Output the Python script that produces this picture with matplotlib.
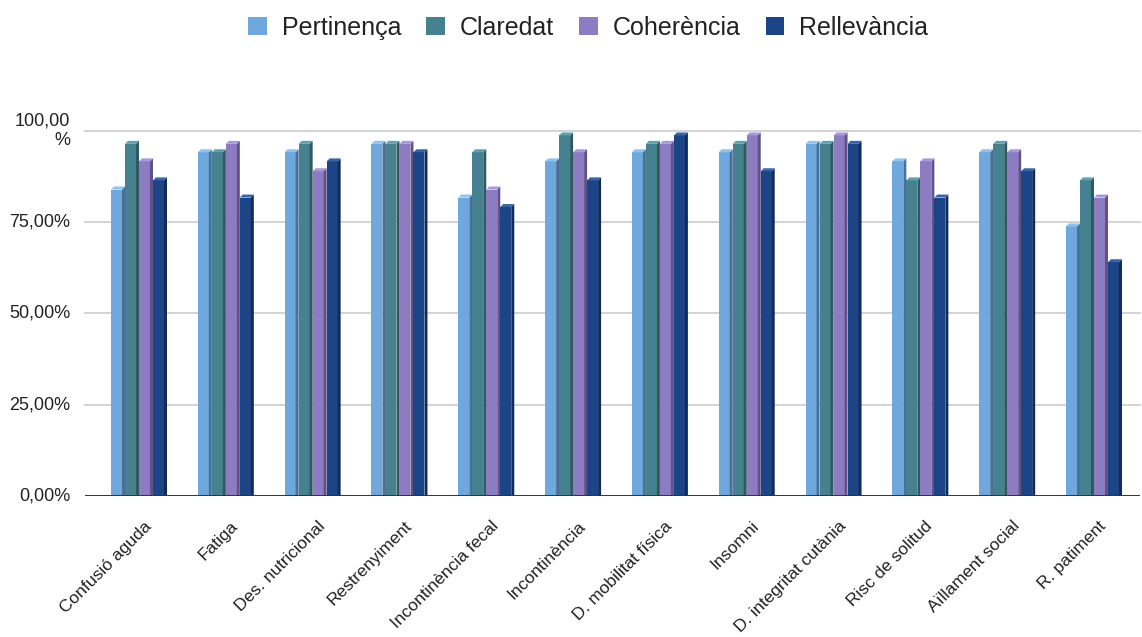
import matplotlib.pyplot as plt
from matplotlib.patches import Patch, Polygon
from matplotlib.ticker import FixedLocator
from matplotlib.transforms import ScaledTranslation
import numpy as np

plt.rcParams['font.family'] = ['Liberation Sans', 'DejaVu Sans']

categories = ['Confusió aguda', 'Fatiga', 'Des. nutricional', 'Restrenyiment',
              'Incontinència fecal', 'Incontinència', 'D. mobilitat física',
              'Insomni', 'D. integritat cutània', 'Risc de solitud',
              'Aïllament social', 'R. patiment']
series = ['Pertinença', 'Claredat', 'Coherència', 'Rellevància']

pertinenca = [83.9, 94.1, 94.1, 96.4, 81.7, 91.6, 94.1, 94.1, 96.4, 91.6, 94.1, 73.8]
claredat = [96.4, 94.1, 96.4, 96.4, 94.1, 98.7, 96.4, 96.4, 96.4, 86.4, 96.4, 86.4]
coherencia = [91.6, 96.4, 88.9, 96.4, 83.9, 94.1, 96.4, 98.7, 98.7, 91.6, 94.1, 81.7]
rellevancia = [86.4, 81.7, 91.6, 94.1, 79.1, 86.4, 98.7, 88.9, 96.4, 81.7, 88.9, 64.0]

yticks = [0, 25, 50, 75, 100]
ytick_labels = ['0,00%', '25,00%', '50,00%', '75,00%', '100,00\n%']

# front, side, top colours of each series
colors = [('#6fa8dc', '#4a6f99', '#92c1ea'),
          ('#45818e', '#2d5960', '#64a0ab'),
          ('#8e7cc3', '#5e5288', '#a998d8'),
          ('#1c4587', '#112c58', '#3b62a3')]

W, H = 1142, 637
fig = plt.figure(figsize=(W / 100, H / 100), dpi=100)
ax = fig.add_axes([85 / W, (H - 496) / H, (1140 - 85) / W, (496 - 130.7) / H])
ax.set_xlim(-0.622, 11.53)
ax.set_ylim(0, 100)

px_x = 86.8          # pixels per category
px_y = 365.3 / 100   # pixels per percent
front_w = 11 / px_x
pitch = 14 / px_x
dx, dy = 3 / px_x, 3 / px_y

x = np.arange(len(categories))
for k, vals in enumerate([pertinenca, claredat, coherencia, rellevancia]):
    front, side, top = colors[k]
    left = x + (-28 / px_x) + k * pitch
    ax.bar(left, vals, width=front_w, align='edge', color=front, zorder=3)
    for l, v in zip(left, vals):
        r = l + front_w
        ax.add_patch(Polygon([(r, 0), (r + dx, dy * 0.3), (r + dx, v + dy), (r, v)],
                             closed=True, facecolor=side, edgecolor='none', zorder=3))
        ax.add_patch(Polygon([(l, v), (l + dx, v + dy), (r + dx, v + dy), (r, v)],
                             closed=True, facecolor=top, edgecolor='none', zorder=3))

# grid and baseline
for t in yticks[1:]:
    ax.axhline(t, color='#d3d3d3', lw=1.4, zorder=1, clip_on=False)
ax.axhline(0, color='#333333', lw=1.4, zorder=4)

for s in ax.spines.values():
    s.set_visible(False)

ax.yaxis.set_major_locator(FixedLocator(yticks))
ax.set_yticklabels(ytick_labels, fontsize=13, color='#222222', ha='right',
                   va='center', multialignment='right')
ax.tick_params(axis='y', length=0, pad=10.5)

ax.set_xticks(x)
ax.set_xticklabels(categories, fontsize=12.5, color='#222222', rotation=45,
                   ha='right', va='center', rotation_mode='anchor')
ax.tick_params(axis='x', length=0, pad=20)
shift = ScaledTranslation(0.1, 0, fig.dpi_scale_trans)
for lab in ax.get_xticklabels():
    lab.set_transform(lab.get_transform() + shift)

handles = [Patch(facecolor=c[0], edgecolor='none') for c in colors]
fig.legend(handles, series, loc='center', bbox_to_anchor=(588 / W, 1 - 28 / H),
           ncol=4, frameon=False, fontsize=18, handlelength=0.75,
           handleheight=0.75, handletextpad=0.6, columnspacing=1.0,
           labelcolor='#222222')

fig.savefig('out.png', dpi=100, facecolor='white')
